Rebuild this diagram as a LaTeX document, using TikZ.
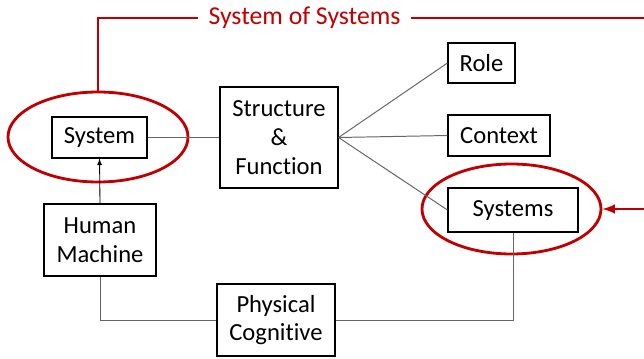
\documentclass[tikz,border=0pt]{standalone}
\usepackage{fontspec}
\setmainfont[Ligatures=NoCommon]{Carlito}
\usepackage{xcolor}
\usetikzlibrary{shapes.geometric}
\definecolor{sosred}{HTML}{C00000}

\begin{document}
\begin{tikzpicture}[
    box/.style={draw, thick, align=center, inner sep=0pt, font=\fontsize{17.5}{20.5}\selectfont},
    link/.style={draw=black!60, line width=0.7pt},
    ring/.style={draw=sosred, line width=2pt, ellipse, inner sep=0pt},
    redline/.style={draw=sosred, line width=2pt}
]

    % Keep the page the size of the reference
    \useasboundingbox (0,0) rectangle (16.1,-8.975);

    % Boxes
    \node[box, minimum width=2.375cm, minimum height=1.025cm] (sys) at (2.4875,-3.4375) {System};
    \node[box, minimum width=2.95cm, minimum height=2.525cm] (sf) at (6.975,-3.4375) {Structure\\\&\\Function};
    \node[box, minimum width=1.675cm, minimum height=1.0cm] (role) at (12.0375,-1.575) {Role};
    \node[box, minimum width=2.55cm, minimum height=1.025cm] (ctx) at (12.475,-3.3875) {Context};
    \node[box, minimum width=3.25cm, minimum height=1.1cm] (syss) at (12.825,-5.25) {Systems};
    \node[box, minimum width=2.8cm, minimum height=1.8cm] (hm) at (2.5,-6.0) {Human\\Machine};
    \node[box, minimum width=2.95cm, minimum height=1.8cm] (pc) at (6.9,-8.0) {Physical\\Cognitive};

    % Red rings round the two system boxes
    \node[ring, minimum width=4.5cm, minimum height=2.25cm] (lring) at (2.45,-3.425) {};
    \node[ring, minimum width=4.475cm, minimum height=2.25cm] (rring) at (12.7875,-5.225) {};

    % Connectors
    \draw[link] (sys.east) -- (sf.west);
    \draw[link] (sf.east) -- (role.west);
    \draw[link] (sf.east) -- (ctx.west);
    \draw[link] (sf.east) -- (syss.west);
    \draw[->, >=latex, semithick] (hm.north) -- (sys.south);
    \draw[link] (hm.south) |- (pc.west);
    \draw[link] (pc.east) -| (syss.south);

    % System of Systems label and its red lines
    \node[text=sosred, inner sep=0.25cm, font=\fontsize{18.3}{21}\selectfont] (sos) at (7.6125,-0.45) {System of Systems};
    \coordinate (topend) at (16.1,-0.45);
    \coordinate (arrowstart) at (16.1,-5.225);
    \draw[redline] (lring.north) |- (sos.west);
    \draw[redline] (sos.east) -- (topend);
    \draw[redline, ->, >=latex] (arrowstart) -- (rring.east);

\end{tikzpicture}
\end{document}
